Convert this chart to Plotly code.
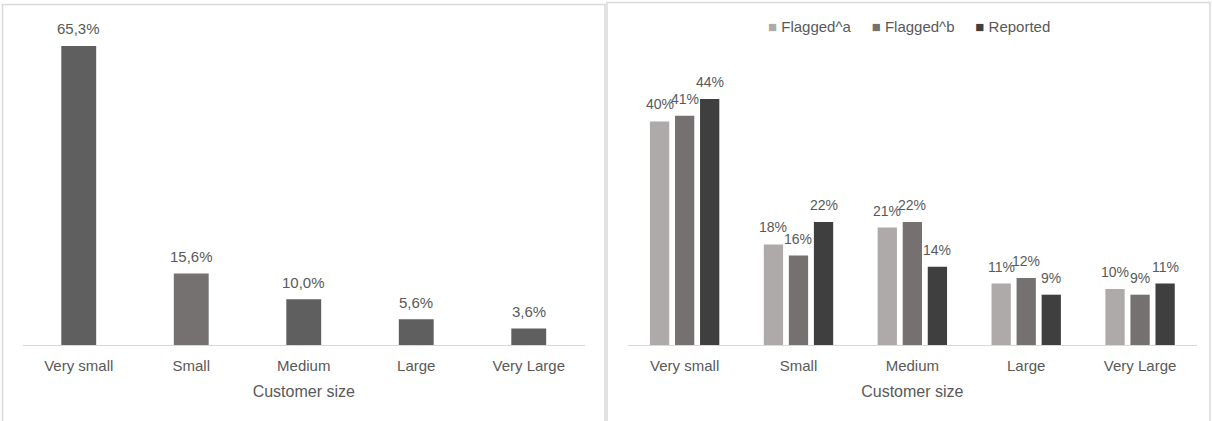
import plotly.graph_objects as go

categories = ["Very small", "Small", "Medium", "Large", "Very Large"]
share_values = [65.3, 15.6, 10.0, 5.6, 3.6]
share_colors = ["#5f5f5f", "#767171", "#5f5f5f", "#5f5f5f", "#5f5f5f"]

series_names = ["Flagged^a", "Flagged^b", "Reported"]
flagged_a = [40, 18, 21, 11, 10]
flagged_b = [41, 16, 22, 12, 9]
reported = [44, 22, 14, 9, 11]
series_values = [flagged_a, flagged_b, reported]
series_colors = ["#aeaaaa", "#767171", "#3f3f3f"]

W, H = 1212, 421
FONT = "Liberation Sans"
TXT = "#595959"

def px_x(p):
    return p / W

def px_y(p):
    return (H - p) / H

fig = go.Figure()

fig.add_trace(go.Bar(
    x=categories, y=share_values, marker=dict(color=share_colors, line=dict(width=0)),
    width=0.31, xaxis="x", yaxis="y", showlegend=False, hoverinfo="skip",
))
for v, c in zip(categories, share_values):
    fig.add_annotation(x=v, y=c, xref="x", yref="y", text=f"{c:.1f}%".replace(".", ","),
                       showarrow=False, yanchor="middle", yshift=17,
                       font=dict(family=FONT, size=15, color=TXT))

n = len(series_names)
for k, (name, vals, col) in enumerate(zip(series_names, series_values, series_colors)):
    fig.add_trace(go.Bar(
        x=categories, y=vals, name=name, marker=dict(color=col, line=dict(width=0)),
        xaxis="x2", yaxis="y2", hoverinfo="skip", showlegend=False,
        offsetgroup=str(k),
    ))

# data labels for grouped bars, centred on each bar (group layout: bargap / bargroupgap)
bargap = 0.34
slot = (1 - bargap) / n
for k, vals in enumerate(series_values):
    offset = -(1 - bargap) / 2 + slot * (k + 0.5)
    for i, v in enumerate(vals):
        fig.add_annotation(x=i + offset, y=v, xref="x2", yref="y2", text=f"{v}%",
                           showarrow=False, yanchor="middle", yshift=17,
                           font=dict(family=FONT, size=14, color=TXT))

legend_text = "&nbsp;&nbsp;&nbsp;&nbsp;&nbsp;".join(
    f"<span style='color:{c}'>■</span>&nbsp;{nm}" for nm, c in zip(series_names, series_colors))
fig.add_annotation(x=px_x(909), y=px_y(27), xref="paper", yref="paper", text=legend_text,
                   showarrow=False, xanchor="center", yanchor="middle",
                   font=dict(family=FONT, size=15, color=TXT))

axis_common = dict(showgrid=False, zeroline=False, showline=True, linecolor="#d9d9d9",
                   linewidth=1, ticks="", tickfont=dict(family=FONT, size=15, color=TXT),
                   ticklabelstandoff=7, fixedrange=True,
                   title=dict(text="Customer size", font=dict(family=FONT, size=16, color=TXT), standoff=12))

fig.update_layout(
    width=W, height=H, margin=dict(l=0, r=0, t=0, b=0),
    paper_bgcolor="white", plot_bgcolor="white",
    barmode="group", bargap=bargap, bargroupgap=0.23, showlegend=False,
    xaxis=dict(domain=[px_x(22.5), px_x(585)], anchor="y", **axis_common),
    xaxis2=dict(domain=[px_x(627.7), px_x(1197)], anchor="y2", **axis_common),
    yaxis=dict(domain=[px_y(345), px_y(345 - 70 * 4.58)], range=[0, 70], visible=False, fixedrange=True),
    yaxis2=dict(domain=[px_y(345), px_y(345 - 50 * 5.59)], range=[0, 50], visible=False, fixedrange=True),
    shapes=[
        dict(type="rect", xref="paper", yref="paper", x0=px_x(2.5), x1=px_x(605), y0=px_y(430), y1=px_y(4.5),
             line=dict(color="#d9d9d9", width=1.5)),
        dict(type="rect", xref="paper", yref="paper", x0=px_x(607), x1=px_x(1210), y0=px_y(430), y1=px_y(2.5),
             line=dict(color="#d9d9d9", width=1.5)),
    ],
)

fig.write_html("out.html")
